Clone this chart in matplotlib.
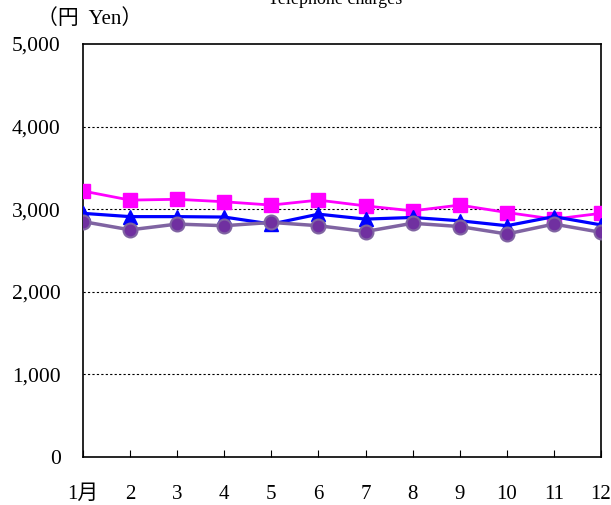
import matplotlib
matplotlib.use("Agg")
import matplotlib.pyplot as plt

months = ["1月", "2", "3", "4", "5", "6", "7", "8", "9", "10", "11", "12"]
pink_vals = [3220, 3110, 3120, 3090, 3050, 3110, 3040, 2980, 3050, 2960, 2880, 2950]
blue_vals = [2950, 2910, 2910, 2905, 2820, 2940, 2880, 2900, 2860, 2800, 2910, 2810]
purple_vals = [2850, 2750, 2820, 2800, 2840, 2800, 2730, 2830, 2790, 2700, 2820, 2720]
y_ticks = [0, 1000, 2000, 3000, 4000, 5000]
y_labels = ["0", "1,000", "2,000", "3,000", "4,000", "5,000"]

plt.rcParams['font.family'] = ['Liberation Serif', 'Noto Sans CJK JP']

fig = plt.figure(figsize=(6.11, 5.05), dpi=100)
ax = fig.add_axes([83/611, 48/505, 518/611, 413/505])

x = list(range(1, 13))
ax.plot(x, pink_vals, color='#FF00FF', lw=2, marker='s', ms=10.5,
        mfc='#FF00FF', mec='#FF00FF', zorder=3)
ax.plot(x, blue_vals, color='#0000FF', lw=2.3, marker='^', ms=9.5,
        mfc='#0000FF', mec='#0000FF', zorder=4)
ax.plot(x, purple_vals, color='#8064A2', lw=2.5, marker='o', ms=10,
        mfc='#7030A0', mec='#8064A2', mew=1.5, zorder=5)

ax.set_xlim(1, 12)
ax.set_ylim(0, 5000)
ax.set_yticks(y_ticks)
ax.set_yticklabels(y_labels, fontsize=15.5)
ax.set_xticks(x)
ax.set_xticklabels(months, fontsize=15)
ax.tick_params(axis='y', length=0, pad=16)
ax.tick_params(axis='x', direction='in', length=5, pad=20)
for v in y_ticks[1:5]:
    ax.axhline(v, color='black', lw=0.8, ls=(0, (2, 2)), zorder=1)
for s in ax.spines.values():
    s.set_color('black')
    s.set_linewidth(1.2)

fig.text(0.548, 1.0, "Telephone charges", ha='center', va='center', fontsize=13)
fig.text(0.06, 0.962, "（円  Yen）", ha='left', va='center', fontsize=15)

fig.savefig("out.png", dpi=100)
